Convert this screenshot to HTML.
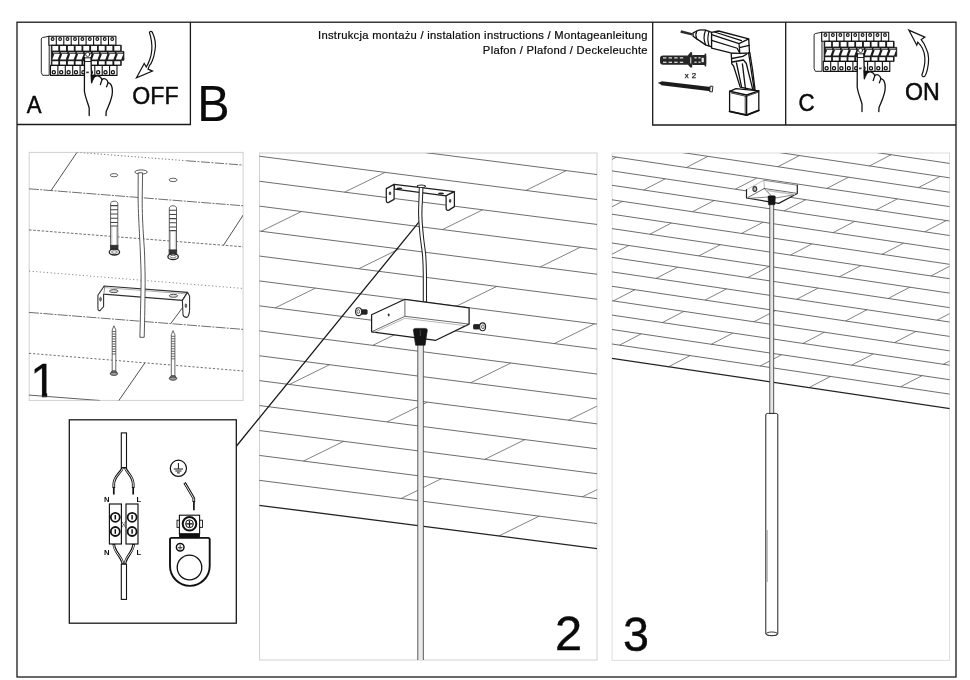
<!DOCTYPE html>
<html lang="pl">
<head>
<meta charset="utf-8">
<title>Instrukcja montażu</title>
<style>
html,body{margin:0;padding:0;background:#fff;}
body{width:970px;height:680px;overflow:hidden;font-family:"Liberation Sans",sans-serif;}
svg{display:block;will-change:transform;}
text{font-family:"Liberation Sans",sans-serif;fill:#0a0a0a;}
</style>
</head>
<body>
<svg width="970" height="680" viewBox="0 0 970 680">
<defs>
<clipPath id="c1"><rect x="29" y="152.5" width="214" height="248"/></clipPath>
<clipPath id="c2"><rect x="259.5" y="153" width="337.5" height="507"/></clipPath>
<clipPath id="c3"><rect x="612" y="153" width="337.5" height="507.5"/></clipPath>
</defs>
<rect x="0" y="0" width="970" height="680" fill="#fff"/>
<defs>
<g id="brk" stroke="#111" stroke-width="0.9" fill="#fff" stroke-linejoin="round">
<path d="M49.2,36.2L42.4,37.6Q41.3,37.9 41.3,39V72.6L42.6,75.3H49.2Z"/>
<rect x="48.9" y="36.2" width="67" height="9" stroke-width="1.1"/>
<path d="M56.3,36.2V45.2M63.8,36.2V45.2M71.2,36.2V45.2M78.7,36.2V45.2M86.1,36.2V45.2M93.6,36.2V45.2M101,36.2V45.2M108.5,36.2V45.2" stroke-width="1.1"/>
<circle cx="52.6" cy="39" r="1.4" stroke-width="1.1"/>
<circle cx="60.1" cy="39" r="1.4" stroke-width="1.1"/>
<circle cx="67.5" cy="39" r="1.4" stroke-width="1.1"/>
<circle cx="75" cy="39" r="1.4" stroke-width="1.1"/>
<circle cx="82.4" cy="39" r="1.4" stroke-width="1.1"/>
<circle cx="89.8" cy="39" r="1.4" stroke-width="1.1"/>
<circle cx="97.3" cy="39" r="1.4" stroke-width="1.1"/>
<circle cx="104.7" cy="39" r="1.4" stroke-width="1.1"/>
<circle cx="112.2" cy="39" r="1.4" stroke-width="1.1"/>
<rect x="50.5" y="65.4" width="66.5" height="10" stroke-width="1.1"/>
<path d="M57.9,65.4V75.4M65.3,65.4V75.4M72.7,65.4V75.4M80.1,65.4V75.4M87.4,65.4V75.4M94.8,65.4V75.4M102.2,65.4V75.4M109.6,65.4V75.4" stroke-width="1.1"/>
<circle cx="53.8" cy="72.3" r="1.6" stroke-width="1.25"/>
<circle cx="61.2" cy="72.3" r="1.6" stroke-width="1.25"/>
<circle cx="68.6" cy="72.3" r="1.6" stroke-width="1.25"/>
<circle cx="76" cy="72.3" r="1.6" stroke-width="1.25"/>
<circle cx="83.4" cy="72.3" r="1.6" stroke-width="1.25"/>
<circle cx="90.8" cy="72.3" r="1.6" stroke-width="1.25"/>
<circle cx="98.2" cy="72.3" r="1.6" stroke-width="1.25"/>
<circle cx="105.5" cy="72.3" r="1.6" stroke-width="1.25"/>
<circle cx="112.9" cy="72.3" r="1.6" stroke-width="1.25"/>
<path d="M51.3,45.2H121.3V51.4H123.9V60.3H121.3V65.4H51.3Z" fill="#1c1c1c" stroke-width="0.8"/>
<rect x="52.4" y="46" width="5.9" height="4.6" stroke="none"/>
<rect x="52.4" y="61.2" width="5.9" height="3.4" stroke="none"/>
<rect x="60.1" y="46" width="5.9" height="4.6" stroke="none"/>
<rect x="60.1" y="61.2" width="5.9" height="3.4" stroke="none"/>
<rect x="67.9" y="46" width="5.9" height="4.6" stroke="none"/>
<rect x="67.9" y="61.2" width="5.9" height="3.4" stroke="none"/>
<rect x="75.6" y="46" width="5.9" height="4.6" stroke="none"/>
<rect x="75.6" y="61.2" width="5.9" height="3.4" stroke="none"/>
<rect x="83.3" y="46" width="5.9" height="4.6" stroke="none"/>
<rect x="83.3" y="61.2" width="5.9" height="3.4" stroke="none"/>
<rect x="91.1" y="46" width="5.9" height="4.6" stroke="none"/>
<rect x="91.1" y="61.2" width="5.9" height="3.4" stroke="none"/>
<rect x="98.8" y="46" width="5.9" height="4.6" stroke="none"/>
<rect x="98.8" y="61.2" width="5.9" height="3.4" stroke="none"/>
<rect x="106.5" y="46" width="5.9" height="4.6" stroke="none"/>
<rect x="106.5" y="61.2" width="5.9" height="3.4" stroke="none"/>
<rect x="114.3" y="46" width="5.9" height="4.6" stroke="none"/>
<rect x="114.3" y="61.2" width="5.9" height="3.4" stroke="none"/>
<rect x="53" y="52" width="6.3" height="1.5" fill="#9a9a9a" stroke="none"/>
<path d="M54.3,54.1H59.8L57.8,59.5H52.3Z" stroke="none"/>
<rect x="60.9" y="52" width="6.3" height="1.5" fill="#9a9a9a" stroke="none"/>
<path d="M62.2,54.1H67.8L65.8,59.5H60.2Z" stroke="none"/>
<rect x="68.9" y="52" width="6.3" height="1.5" fill="#9a9a9a" stroke="none"/>
<path d="M70.2,54.1H75.7L73.7,59.5H68.2Z" stroke="none"/>
<rect x="76.8" y="52" width="6.3" height="1.5" fill="#9a9a9a" stroke="none"/>
<path d="M78.1,54.1H83.6L81.6,59.5H76.1Z" stroke="none"/>
<rect x="84.7" y="52" width="6.3" height="1.5" fill="#9a9a9a" stroke="none"/>
<path d="M86,54.1H91.6L89.6,59.5H84Z" stroke="none"/>
<rect x="92.7" y="52" width="6.3" height="1.5" fill="#9a9a9a" stroke="none"/>
<path d="M94,54.1H99.5L97.5,59.5H92Z" stroke="none"/>
<rect x="100.6" y="52" width="6.3" height="1.5" fill="#9a9a9a" stroke="none"/>
<path d="M101.9,54.1H107.4L105.4,59.5H99.9Z" stroke="none"/>
<rect x="108.5" y="52" width="6.3" height="1.5" fill="#9a9a9a" stroke="none"/>
<path d="M109.8,54.1H115.4L113.4,59.5H107.8Z" stroke="none"/>
<rect x="116.5" y="52" width="6.3" height="1.5" fill="#9a9a9a" stroke="none"/>
<path d="M117.8,54.1H123.3L121.3,59.5H115.8Z" stroke="none"/>
<path d="M84.5,57.5C84.3,52.3 91.1,52.3 91,57.5L91.6,82.8L94.6,76.8C97,75.2 100.4,75.4 102,79.6C104,77.8 107.2,78.8 108.1,82.6C111.2,83.2 112.4,87 112.4,91.4C112.4,98.5 109,104.5 106.2,111.5L106,115.6H89.2V108C88,103.5 85,96.5 84.4,91Z" stroke="none"/>
<g fill="none" stroke-width="1.3" stroke-linecap="round"><path d="M84.5,57.5L84.4,91C85,96.5 88,103.5 89.2,108V115.6"/><path d="M91,57.5L91.6,82.8"/><path d="M94.6,76.8C97,75.2 100.4,75.4 102,79.6L100.4,84.6"/><path d="M102,79.6C104,77.8 107.2,78.8 108.1,82.6L106.6,86.8"/><path d="M108.1,82.6C111.2,83.2 112.4,87 112.4,91.4C112.4,98.5 109,104.5 106.2,111.5L106,115.6"/>
<circle cx="87.7" cy="54.4" r="2.1" fill="#fff" stroke-width="0.75"/>
<path d="M84.6,61.5H91M84.6,57.8H91" stroke-width="0.9"/>
</g>
<path d="M91,74.5L95.2,75.8L91.6,83Z" fill="#111" stroke-width="0.6"/>
<rect x="86.2" y="71.6" width="2.6" height="1.6" fill="#333" stroke="none"/>
</g></defs>
<!-- outer frame and header boxes -->
<g fill="none" stroke="#1a1a1a" stroke-width="1.3">
<rect x="17" y="22.2" width="939" height="654.8"/>
<path d="M17,124.5H190.4V22.2"/>
<path d="M652.7,22.2V125H956M785.7,22.2V125"/>
</g>
<!-- panel borders -->
<g fill="none" stroke="#d0d0d0" stroke-width="1">
<rect x="29.2" y="152.4" width="213.9" height="248"/>
<rect x="259.5" y="153" width="337.5" height="507"/>
<rect x="612.1" y="153" width="337.4" height="507.4" stroke="#dedede"/>
</g>
<!-- header text -->
<defs><clipPath id="c1d"><path d="M20,350H70V391.4H47.15V400H41.9V391.4H20Z"/></clipPath></defs>
<g stroke="#0a0a0a" stroke-linejoin="round">
<text transform="translate(647.8,38.8) scale(1.08,1)" font-size="10.4" letter-spacing="0.25" text-anchor="end" stroke-width="0.2">Instrukcja montażu / instalation instructions / Montageanleitung</text>
<text transform="translate(647.8,53.6) scale(1.08,1)" font-size="10.4" letter-spacing="0.25" text-anchor="end" stroke-width="0.2">Plafon / Plafond / Deckeleuchte</text>
<text transform="translate(26.84,113.2) scale(0.947,1)" font-size="23.42" stroke-width="0.5">A</text>
<text transform="translate(132.3,103.8) scale(0.942,1)" font-size="24.6" stroke-width="0.45">OFF</text>
<text transform="translate(197.3,121.1) scale(0.975,1)" font-size="49.7" stroke-width="0.2">B</text>
<text transform="translate(798.59,110.8) scale(0.939,1)" font-size="23.75" stroke-width="0.5">C</text>
<text transform="translate(905,99.95) scale(0.983,1)" font-size="23.6" stroke-width="0.5">ON</text>
<g clip-path="url(#c1d)"><text transform="translate(30.3,397.3) scale(0.96,1)" font-size="49" stroke-width="0.3">1</text></g>
<text transform="translate(555.01,649.65) scale(1.031,1)" font-size="47.31" stroke-width="0.4">2</text>
<text transform="translate(622.9,651.3) scale(0.987,1)" font-size="47.35" stroke-width="0.4">3</text>
</g>
<!-- Box A -->
<use href="#brk"/>
<path d="M149.4,32.4C149.9,31 151.7,31 152.3,32.3C155,38 156,45 155,50C154.3,55 153.5,58 152.5,60.3C151.5,63 150.5,64.5 149.4,65.6L148,69.1L152.5,71.1L136.5,77.8L144.2,63.4L146.3,67C147.6,65 148.9,62 149.9,59C151,56 151.6,53 151.8,50C152.2,44 151.2,38 149.4,32.4Z" fill="#fff" stroke="#111" stroke-width="1.2" stroke-linejoin="miter"/>
<!-- Box C -->
<use href="#brk" transform="translate(772.8,-4)"/>
<path d="M908.8,30.1L924.9,37.1L921.2,39.6C923.2,42 924.6,44.5 925.6,47.2C927.6,51 928.7,55 928.6,58.5C928.6,62 928.3,66 927.4,69.3C926.8,72 926,74.4 925,76C924.2,77.3 922,76.8 921.9,75C923,72.5 923.6,69.5 924.1,66.8C924.8,64 925,61 924.9,58.2C924.8,54.5 923.8,51 922.4,48.3C921.3,46 919.6,44 917.8,42.1L916.8,45.2Z" fill="#fff" stroke="#111" stroke-width="1.2" stroke-linejoin="miter"/>
<!-- Drill box -->
<g stroke="#111" stroke-width="1.3" fill="#fff" stroke-linejoin="round" stroke-linecap="round">
<path d="M680.7,31.5L692.4,34.4" stroke-width="2.5" stroke="#2a2a2a" stroke-linecap="butt"/>
<path d="M693.1,32.9L696.8,31C699,29.6 703,29.8 705.6,30.2L711.6,32.4V46.8L705.6,44.9L696.8,38.9L693.1,36.2Z"/>
<path d="M696.8,31C695.6,33.5 695.6,36.5 696.8,38.9M705.6,30.2C703.8,34.5 703.8,40.5 705.6,44.9M709,31.4C707.6,36 707.6,41.5 709,46" fill="none" stroke-width="1.2"/>
<path d="M731.2,53.2L749.8,52.6L752.6,70L755.1,90.2L740.2,87.1L733.6,66L731.8,63.8Z"/>
<path d="M711.6,32.4L718.6,31L748.7,38.9L749.5,52.8L739.9,53.4L730.7,52.8L711.6,48.2Z"/>
<path d="M711.6,34.6L739,43.6L748.7,38.9M714.5,32L741.5,40.6M711.6,40.4L737.2,48.2L739.9,53.4M739,43.6L739.9,53.4M739.4,47.6L749.2,45.4" fill="none" stroke-width="1.2"/>
<path d="M731.8,58.5L742.8,56.4L746.6,54.2M732.2,62L743.5,60L746.3,63.5L752.6,88.8M742.4,63.8L745.5,89.2M736.5,63L741.5,86.6M748.6,53L754.2,89.8" fill="none" stroke-width="1.3"/>
<path d="M729.6,91.3L736,88.6L758.8,90.8V110.4L746.6,115.1L729.6,111.4Z"/>
<path d="M729.6,91.3L746.6,95L758.8,90.8M746.6,95V115.1" fill="none" stroke-width="1.4"/>
<path d="M731.2,93L746.4,96.4L757.6,92.4M745.2,96.2V114.2" fill="none" stroke-width="0.8"/>
<path d="M729.6,111.4L746.6,115.1L758.8,110.4" fill="none" stroke-width="1.9"/>
</g>
<!-- wall plug -->
<g fill="#262626" stroke="none">
<rect x="660" y="55.4" width="30" height="9.4" rx="3"/>
<path d="M685.5,58.5L690.3,52.3H692.2V67.6H690.3L685.5,61.8Z"/>
<rect x="692" y="55" width="14.2" height="10" rx="1"/>
<rect x="704.6" y="53.6" width="1.6" height="12.8"/>
</g>
<g fill="#e8e8e8" stroke="none">
<rect x="663" y="57.3" width="3.4" height="1.2"/><rect x="668.6" y="57.3" width="3.4" height="1.2"/><rect x="674.2" y="57.3" width="3.4" height="1.2"/><rect x="679.8" y="57.3" width="3.4" height="1.2"/>
<rect x="663" y="61.7" width="3.4" height="1.2"/><rect x="668.6" y="61.7" width="3.4" height="1.2"/><rect x="674.2" y="61.7" width="3.4" height="1.2"/><rect x="679.8" y="61.7" width="3.4" height="1.2"/>
<rect x="694.4" y="57.2" width="2.2" height="1.2"/><rect x="698.4" y="57.2" width="2.2" height="1.2"/><rect x="694.4" y="61.6" width="2.2" height="1.2"/><rect x="698.4" y="61.6" width="2.2" height="1.2"/>
</g>
<rect x="690.2" y="57.4" width="1.1" height="6" fill="#ddd"/><rect x="701.6" y="57.8" width="2.2" height="4.4" fill="#eee"/>
<text x="684.8" y="77.7" font-size="7.8" letter-spacing="0.4" stroke="#111" stroke-width="0.25">x 2</text>
<path d="M661.5,83.3L710.6,89.1" stroke="#1c1c1c" stroke-width="4.1" fill="none"/>
<path d="M657.8,82.8L662,81.4V85.3Z" fill="#1c1c1c"/>
<rect x="709.9" y="86.2" width="2.7" height="5.6" fill="#eee" stroke="#1c1c1c" stroke-width="0.9" transform="rotate(6 711.2 89)"/>
<!-- Panel 1 -->
<g clip-path="url(#c1)" fill="none" stroke="#565656" stroke-width="0.85">
<path d="M77,152.3L187,160.8" stroke-dasharray="1.2 2.2"/>
<path d="M187,160.8L243.5,165.1" stroke-dasharray="9 1.5 2 1.5"/>
<path d="M29,188.8L243.5,205.8" stroke-dasharray="10 1.2 2 1.2"/>
<path d="M29,229.9L243.5,246.8" stroke-dasharray="2.6 1.6"/>
<path d="M29,271.1L243.5,288.5" stroke-dasharray="1.2 2.4" stroke="#777"/>
<path d="M29,312.4L243.5,329.4" stroke-dasharray="10 1.2 2 1.2"/>
<path d="M29,353.3L243.5,371" stroke-dasharray="2.2 1.9"/>
<path d="M29,395.1L100,400.5" stroke="#444"/>
<path d="M77,152.3L51,190.6M251,203L223.5,245.3M183,307L171,323.2M145,362.7L118.5,401" stroke="#333"/>
</g>
<!-- holes -->
<g fill="#fff" stroke="#444" stroke-width="0.85">
<ellipse cx="114.1" cy="175.2" rx="3.8" ry="1.6"/>
<ellipse cx="173.1" cy="179.9" rx="4" ry="1.7"/>
</g>
<!-- plugs -->
<g id="plug" fill="#fff" stroke="#444" stroke-width="0.85">
<path d="M110.6,203.5C110.6,200.4 117.8,200.4 117.8,203.5V246H110.6Z"/>
<path d="M110.6,205.6H117.8M110.6,209.8H117.8M110.6,214H117.8M110.6,218.2H117.8M110.6,222.4H117.8M110.6,226H117.8" stroke-width="1.05" stroke="#444"/>
<path d="M111.8,226V246M116.6,226V246" stroke-width="0.5" stroke="#888"/>
<rect x="110.4" y="245.3" width="7.6" height="4.6" fill="#333" stroke="#333"/>
<ellipse cx="114.4" cy="252.1" rx="5.2" ry="2.9" stroke="#222" stroke-width="1.3"/>
<ellipse cx="114.4" cy="252" rx="2.9" ry="1.3" stroke-width="0.7"/>
</g>
<use href="#plug" transform="translate(58.7,4.6)"/>
<!-- screws -->
<g id="scr" fill="#fff" stroke="#444" stroke-width="0.8">
<path d="M113.9,325.8L112.2,330V371.5H115.8V330Z"/>
<path d="M112.2,331.5H115.8M112.2,334H115.8M112.2,336.5H115.8M112.2,339H115.8M112.2,341.5H115.8M112.2,344H115.8M112.2,346.5H115.8M112.2,349H115.8M112.2,351.5H115.8M112.2,354H115.8" stroke-width="0.9" stroke="#555"/>
<path d="M112.2,370.8L110.3,373.4H117.5L115.8,370.8Z" fill="#777"/>
<ellipse cx="113.9" cy="373.8" rx="3.7" ry="1.7" fill="#999" stroke="#333"/>
</g>
<use href="#scr" transform="translate(59.1,4.8)"/>
<!-- bracket -->
<g fill="#fff" stroke="#303030" stroke-width="1.1" stroke-linejoin="round">
<path d="M104.2,286L187.5,292.4L182.4,300.4L103.6,294.1Z"/>
<path d="M104.2,286L97.9,295.3V308.3C97.9,310.8 99.4,311.2 100.6,310L103.6,306.6V294.1"/>
<path d="M187.5,292.4L189.6,296V309.5C189.6,314 188,317.6 186.2,317.4C184,317.2 183,315.5 183,314.6L182.4,300.4Z"/>
<path d="M105.2,287.6L186.2,293.9" stroke-width="0.6" stroke="#777" fill="none"/>
<ellipse cx="113.8" cy="291.1" rx="4.4" ry="1.5" fill="#ddd" stroke-width="0.8"/>
<ellipse cx="173.4" cy="295.8" rx="4.2" ry="1.5" fill="#ddd" stroke-width="0.8"/>
<ellipse cx="100.5" cy="299.2" rx="0.8" ry="2" fill="#888" stroke-width="0.7"/>
<ellipse cx="185.9" cy="305.7" rx="0.8" ry="2" fill="#888" stroke-width="0.7"/>
</g>
<!-- cable -->
<g fill="#fff" stroke="#444" stroke-width="0.9" stroke-linejoin="round">
<ellipse cx="141.1" cy="172" rx="6.2" ry="2.1"/>
<path d="M138.2,172.8L138.1,198C138.2,205 138.4,212 138.7,218C139,225 139.4,232 139.7,238C140,244 140.2,249 140.4,254C140.7,262 141.1,270 141.1,276C141.1,286 140.9,295 140.7,303C140.5,312 140.3,321 140.1,329L139.9,337.3H144.2L144.4,329C144.6,321 144.8,312 144.9,303C145,295 145.2,286 145.1,276C145,270 144.8,262 144.6,254C144.4,249 144,244 143.6,238C143.2,232 142.8,225 142.5,218C142.3,212 142.2,205 142.2,198L142.6,172.8Z"/>
</g>
<!-- Panel 2 planks -->
<g clip-path="url(#c2)" fill="none" stroke="#5c5c5c" stroke-width="0.9">
<path d="M257.5,131.1L599,174.8M257.5,156L599,199.8M257.5,181L599,224.7M257.5,205.9L599,249.6M257.5,230.8L599,274.5M257.5,255.8L599,299.5M257.5,280.7L599,324.4M257.5,305.6L599,349.3M257.5,330.6L599,374.3M257.5,355.5L599,399.2M257.5,380.4L599,424.1M257.5,405.3L599,449.1M257.5,430.3L599,474M257.5,455.2L599,498.9M257.5,480.1L599,523.8"/>
<path d="M428.3,153L468.6,133.2M247,154.7L287.3,134.9M526,190.4L566.3,170.6M344.7,192.1L385,172.4M442.4,229.6L482.7,209.8M261.1,231.3L301.4,211.5M540.1,267L580.4,247.2M358.8,268.7L399.1,249M456.5,306.2L496.8,286.4M275.2,307.9L315.5,288.1M554.2,343.6L594.5,323.8M372.9,345.3L413.2,325.6M470.6,382.8L510.9,363M289.3,384.5L329.6,364.7M568.3,420.2L608.6,400.4M387,421.9L427.3,402.2M205.7,423.6L246,403.9M484.7,459.4L525,439.6M303.4,461.1L343.7,441.3M582.4,496.8L622.7,477M401.1,498.5L441.4,478.7M219.8,500.2L260.1,480.5M498.8,536L539.1,516.2" stroke-width="0.77"/>
<path d="M257.5,505.1L599,548.8" stroke="#222" stroke-width="1.3"/>
</g><!-- Panel 3 planks -->
<g clip-path="url(#c3)" fill="none" stroke="#5c5c5c" stroke-width="0.9">
<path d="M610,112.9L951.5,163.7M610,127.4L951.5,178.1M610,141.8L951.5,192.5M610,156.2L951.5,206.9M610,170.6L951.5,221.3M610,185L951.5,235.8M610,199.5L951.5,250.2M610,213.9L951.5,264.6M610,228.3L951.5,279M610,242.7L951.5,293.4M610,257.1L951.5,307.9M610,271.6L951.5,322.3M610,286L951.5,336.7M610,300.4L951.5,351.1M610,314.8L951.5,365.5M610,329.2L951.5,380M610,343.7L951.5,394.4"/>
<path d="M680.2,123.4L701.8,112.2M820.7,144.2L842.3,133M588.6,124.2L610.2,113M729.1,145L750.7,133.8M869.6,165.9L891.2,154.7M637.5,145.9L659.1,134.6M778,166.7L799.6,155.5M918.5,187.6L940.1,176.4M686.4,167.5L708,156.3M826.9,188.4L848.5,177.2M594.8,168.4L616.4,157.1M735.3,189.2L756.9,178M875.8,210.1L897.4,198.9M643.7,190L665.3,178.8M784.2,210.9L805.8,199.7M924.7,231.8L946.3,220.6M552.1,190.9L573.7,179.6M692.6,211.7L714.2,200.5M833.1,232.6L854.7,221.4M601,212.5L622.6,201.3M741.5,233.4L763.1,222.2M882,254.3L903.6,243.1M649.9,234.2L671.5,223M790.4,255.1L812,243.9M930.9,276L952.5,264.7M558.3,235L579.9,223.8M698.8,255.9L720.4,244.7M839.3,276.8L860.9,265.6M607.2,256.7L628.8,245.5M747.7,277.6L769.3,266.4M888.2,298.5L909.8,287.2M656.1,278.4L677.7,267.2M796.6,299.3L818.2,288.1M937.1,320.1L958.7,308.9M564.5,279.2L586.1,268M705,300.1L726.6,288.9M845.5,321L867.1,309.7M613.4,300.9L635,289.7M753.9,321.8L775.5,310.6M894.4,342.6L916,331.4M662.3,322.6L683.9,311.4M802.8,343.5L824.4,332.2M943.3,364.3L964.9,353.1M570.7,323.4L592.3,312.2M711.2,344.3L732.8,333.1M851.7,365.1L873.3,353.9M619.6,345.1L641.2,333.9M760.1,366L781.7,354.7M900.6,386.8L922.2,375.6M668.5,366.8L690.1,355.6M809,387.6L830.6,376.4M949.5,408.5L971.1,397.3" stroke-width="0.77"/>
<path d="M610,358.1L951.5,408.8" stroke="#222" stroke-width="1.3"/>
</g><!-- callout line + wiring box -->
<path d="M236.5,446L419.3,221.6" stroke="#151515" stroke-width="1.25" fill="none"/>
<rect x="69.3" y="419.8" width="167" height="203.4" fill="#fff" stroke="#1a1a1a" stroke-width="1.3"/>
<g fill="none" stroke="#111" stroke-linecap="butt">
<rect x="121.3" y="432.9" width="5.2" height="34.7" fill="#fff" stroke-width="1.1"/>
<path d="M122.6,467.6C121,473 114,476 113.8,484V488" stroke-width="2.7"/>
<path d="M125.2,467.6C127,473 133,476 133.2,484V488" stroke-width="2.7"/>
<path d="M122.6,468.4C121,473 114,476 113.8,484V487" stroke="#fff" stroke-width="0.9"/>
<path d="M125.2,468.4C127,473 133,476 133.2,484V487" stroke="#fff" stroke-width="0.9"/>
<path d="M113.8,487V494.5M133.2,487V494.5" stroke-width="1.7"/>
<rect x="109.4" y="504" width="12" height="40" fill="#fff" stroke-width="1.15"/>
<rect x="126" y="504" width="12" height="40" fill="#fff" stroke-width="1.15"/>
<g stroke-width="1.8" fill="#fff">
<circle cx="115.3" cy="517.3" r="4.5"/><circle cx="132.1" cy="517.3" r="4.5"/>
<circle cx="115.3" cy="531.5" r="4.5"/><circle cx="132.1" cy="531.5" r="4.5"/>
</g>
<path d="M115.3,515.1V519.5M132.1,515.1V519.5M115.3,529.3V533.7M132.1,529.3V533.7" stroke-width="1.5"/>
<path d="M121.4,521.3L122.8,523M126,521.3L124.6,523M122.6,523.4L125,525.8M125,523.4L122.6,525.8M121.4,527.8L122.8,526.2M126,527.8L124.6,526.2" stroke-width="0.7"/>
<path d="M113.8,544C114,552 121.5,556 123,564.2" stroke-width="2.7"/>
<path d="M133.6,544C133.4,552 126,556 124.8,564.2" stroke-width="2.7"/>
<path d="M113.8,545C114,552 121.5,556 123,563.4" stroke="#fff" stroke-width="0.9"/>
<path d="M133.6,545C133.4,552 126,556 124.8,563.4" stroke="#fff" stroke-width="0.9"/>
<rect x="121.3" y="564.2" width="5.2" height="35.2" fill="#fff" stroke-width="1.1"/>
</g>
<g font-size="7.6" font-weight="bold">
<text x="103.9" y="501.7">N</text><text x="136.6" y="501.7">L</text>
<text x="103.9" y="555">N</text><text x="136.6" y="555">L</text>
</g>
<!-- earth -->
<g fill="none" stroke="#111">
<circle cx="178.4" cy="468.3" r="8.1" stroke-width="1.2"/>
<path d="M178.4,463V468.9M173.8,469H183M175.4,471H181.4M177,472.9H179.8" stroke-width="1"/>
<path d="M184.6,482.8L193.8,498.4V502" stroke-width="2.7"/>
<path d="M185,483.6L193.8,498.6V501" stroke="#fff" stroke-width="0.9"/>
<path d="M193.9,501V510.2" stroke-width="1.7"/>
<rect x="177" y="520.2" width="25.5" height="7.2" fill="#fff" stroke-width="0.9"/>
<rect x="179.4" y="515.2" width="20.2" height="18.7" fill="#fff" stroke-width="1.1"/>
<circle cx="189.5" cy="523.8" r="6.8" stroke-width="2" fill="#fff"/>
<circle cx="189.5" cy="523.8" r="3.9" stroke-width="1"/>
<path d="M189.5,520.4V527.2M186.1,523.8H192.9" stroke-width="1.2"/>
<rect x="179.4" y="533.9" width="20.2" height="3.9" fill="#111" stroke-width="0.8"/>
<path d="M170,539.6Q170,537.9 171.7,537.9H208Q209.7,537.9 209.7,539.6V566A19.85,19.85 0 0 1 170,566Z" fill="#fff" stroke-width="1.9"/>
<circle cx="189.5" cy="567.5" r="12.3" stroke-width="1.3"/>
<circle cx="180.2" cy="547.3" r="3.8" stroke-width="1.5"/>
<path d="M180.2,544.8V547.4M178,547.6H182.4M178.9,548.9H181.5" stroke-width="0.8"/>
</g>
<!-- Panel 2 objects -->
<g fill="#fff" stroke="#1e1e1e" stroke-width="1.25" stroke-linejoin="round">
<path d="M394.1,184.4L454.4,191.6L446.1,195.8L394.6,189.1Z"/>
<path d="M394.1,184.4L386.3,188.6V200.2Q386.4,203.4 388.6,202.4L394.1,199.4Z"/>
<path d="M454.4,191.6L446.1,195.8V207.9Q446.3,211.2 448.9,210.1L454.4,206.6Z"/>
<ellipse cx="399.4" cy="188.5" rx="3" ry="1" fill="#222" stroke="none"/>
<ellipse cx="441" cy="193.5" rx="3" ry="1" fill="#222" stroke="none"/>
<ellipse cx="390" cy="193.3" rx="0.8" ry="1.6" fill="#555" stroke-width="0.7"/>
<ellipse cx="450.1" cy="200.9" rx="0.8" ry="1.6" fill="#555" stroke-width="0.7"/>
</g>
<!-- thin cable from ceiling to canopy -->
<g fill="#fff" stroke="#222" stroke-width="1.05">
<path d="M419.3,186.6C419.2,198 418.4,207 418.6,215C418.8,224 419.4,229 420,235C420.8,243 422,249 422.5,255C423.2,264 423.3,272 423.3,280V302H426.5V280C426.5,272 426.4,264 425.7,255C425.2,249 424,243 423.3,235C422.8,229 422,224 421.9,215C421.8,207 422.8,198 422.9,186.6Z"/>
<ellipse cx="421.3" cy="186.2" rx="4.1" ry="1.2"/>
</g>
<!-- callout end overlay handled by line drawn earlier -->
<!-- screws near canopy -->
<g stroke="#222" stroke-width="0.9">
<rect x="360.5" y="309.8" width="6.6" height="4.4" fill="#222" rx="0.6"/>
<ellipse cx="358.6" cy="311.7" rx="3" ry="3.9" fill="#fff" stroke-width="1.1"/>
<ellipse cx="358.3" cy="311.6" rx="1.3" ry="1.9" fill="none" stroke-width="0.7"/>
<rect x="473.6" y="324.6" width="6.4" height="4.4" fill="#222" rx="0.6"/>
<ellipse cx="482.6" cy="326.8" rx="3" ry="3.9" fill="#fff" stroke-width="1.1"/>
<ellipse cx="482.9" cy="326.8" rx="1.3" ry="1.9" fill="none" stroke-width="0.7"/>
</g>
<!-- canopy -->
<g fill="#fff" stroke="#1c1c1c" stroke-width="1.25" stroke-linejoin="round">
<path d="M371.6,314.8L404.9,299.3L469.1,307.8V324.1L435.8,340.3L371.6,331.8Z"/>
<path d="M404.9,299.3V316.3L371.6,331.8M404.9,316.3L469.1,324.1" fill="none" stroke-width="0.8" stroke="#444"/>
<path d="M404.9,318.3L373.5,332.8M404.9,318.3L466.5,325.8" fill="none" stroke-width="0.6" stroke="#888"/>
<ellipse cx="388.7" cy="314.9" rx="0.6" ry="1.2" fill="#333" stroke-width="0.6"/>
</g>
<!-- lower cable + grommet -->
<rect x="417.8" y="343" width="5.5" height="318" fill="#e9e9e9" stroke="#4a4a4a" stroke-width="0.9" clip-path="url(#c2)"/>
<path d="M413.4,330.2Q413.4,328.4 415.2,328.4H425.5Q427.3,328.4 427.3,330.2L425.1,345.2H415.6Z" fill="#151515" stroke="#111" stroke-width="0.6"/>
<path d="M420.3,330V336" stroke="#666" stroke-width="0.6"/>

<!-- Panel 3 objects -->
<g fill="#fff" stroke="#2a2a2a" stroke-width="1.1" stroke-linejoin="round" stroke-linecap="round">
<path d="M746.5,189.7L763.9,180.3L797.3,185.2V193.5L778.7,203.4L746.5,198Z" stroke="none"/>
<path d="M746.5,189.7L763.9,180.3" fill="none" stroke="#aaa" stroke-width="0.8"/>
<path d="M763.9,180.3L797.3,185.2" fill="none" stroke="#777" stroke-width="0.9"/>
<path d="M746.5,189.7V198L778.7,203.4L797.3,193.5V185.2" fill="none" stroke="#222" stroke-width="1.2"/>
<path d="M763.9,180.3L764.3,188.5" fill="none" stroke-width="0.7" stroke="#999"/>
<path d="M764.3,188.5L748,197.4M764.3,188.5L771,195.5M764.3,188.5L796,193.2" fill="none" stroke-width="0.8" stroke="#444"/>
<path d="M766,190.2L794.5,194.5" fill="none" stroke-width="1.5" stroke="#c4c4c4"/>
<path d="M749,198.3L768.5,197M775.5,198L793,195" fill="none" stroke-width="0.7" stroke="#555"/>
<ellipse cx="754.8" cy="189" rx="1.9" ry="2.4" fill="#bbb" stroke="#333" stroke-width="1.1"/>
</g>
<rect x="769.8" y="203" width="3.9" height="211" fill="#e6e6e6" stroke="#444" stroke-width="0.9"/>
<path d="M768,197Q768,195.8 769.2,195.8H774.2Q775.4,195.8 775.4,197L774.9,204.7H768.5Z" fill="#151515" stroke="#111" stroke-width="0.5"/>
<!-- lamp tube -->
<path d="M765.8,415C765.8,413.4 767,413.4 768.5,413.4H775.2C776.7,413.4 777.8,413.4 777.8,415V633.8C777.8,636.3 765.8,636.3 765.8,633.8Z" fill="#fff" stroke="#222" stroke-width="1"/>
<ellipse cx="771.8" cy="633.8" rx="5.6" ry="1.8" fill="#fff" stroke="#222" stroke-width="0.9"/>
<path d="M767.2,530V582" stroke="#666" stroke-width="0.6" fill="none"/>
</svg>
</body></html>
